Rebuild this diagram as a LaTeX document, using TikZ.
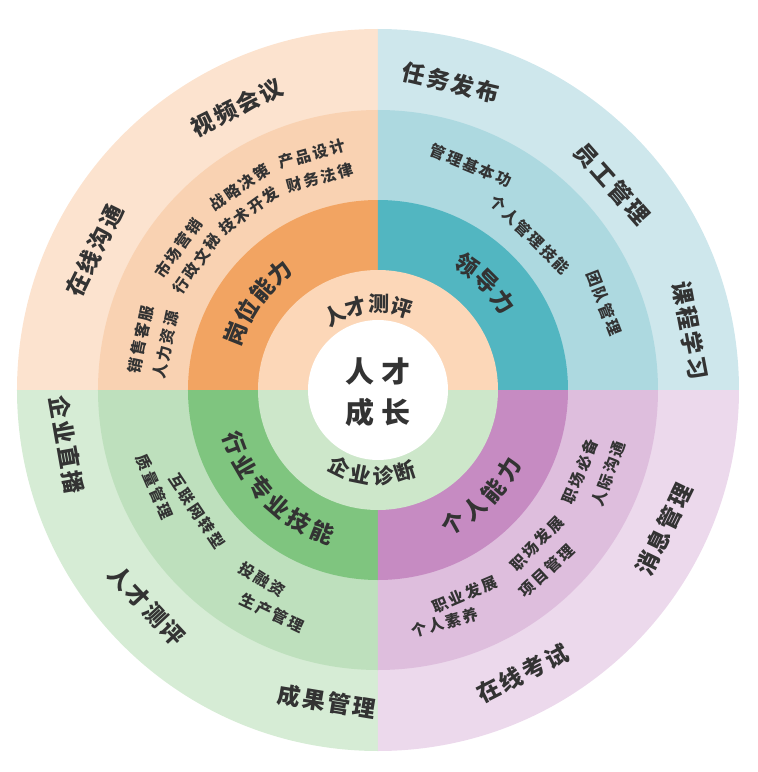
\documentclass[tikz,border=0pt]{standalone}
\usepackage{fontspec}
\newfontfamily\cjk{Noto Sans CJK SC}
\newfontfamily\cjkouter{Noto Sans CJK SC}[LetterSpace=10.5]
\newfontfamily\cjksmall{Noto Sans CJK SC}[LetterSpace=14]
\definecolor{txt}{HTML}{333333}
\definecolor{peachA}{HTML}{FCE3CF}
\definecolor{peachB}{HTML}{F9D2B2}
\definecolor{peachC}{HTML}{F2A462}
\definecolor{innerTop}{HTML}{FCD7B8}
\definecolor{tealA}{HTML}{CEE7EC}
\definecolor{tealB}{HTML}{ADD9E0}
\definecolor{tealC}{HTML}{52B6C1}
\definecolor{greenA}{HTML}{D6ECD5}
\definecolor{greenB}{HTML}{BEE0BD}
\definecolor{greenC}{HTML}{7FC57F}
\definecolor{innerBot}{HTML}{CDE7CA}
\definecolor{purpA}{HTML}{ECD9EC}
\definecolor{purpB}{HTML}{DEBEDD}
\definecolor{purpC}{HTML}{C68BC2}
\tikzset{
  lbl/.style={text=txt, inner sep=0pt},
  outerlbl/.style={lbl, font=\cjkouter\bfseries\fontsize{23}{23}\selectfont},
  midlbl/.style={lbl, font=\cjk\bfseries\fontsize{23}{23}\selectfont},
  innerlbl/.style={lbl, font=\cjk\bfseries\fontsize{21}{21}\selectfont},
  smalllbl/.style={lbl, font=\cjksmall\bfseries\fontsize{15.5}{15.5}\selectfont},
  centerlbl/.style={lbl, font=\cjk\bfseries\fontsize{29}{29}\selectfont},
}
% whole word on a tangent, top half (tops outward) / bottom half (tops inward)
\newcommand\topword[5]{\node[#2, rotate=#4-90] (#1) at (#4:#3pt) {#5};}
\newcommand\botword[5]{\node[#2, rotate=#4+90] (#1) at (#4:#3pt) {#5};}
% curved text, one character per node, top half: reads clockwise
\newcommand\toparc[7]{%
  \foreach \ch [count=\i] in {#7} {%
    \pgfmathsetmacro\ang{#4 - (\i-(#6+1)/2)*#5}%
    \node[#2, rotate=\ang-90] (#1-\i) at (\ang:#3pt) {\ch};
  }}
% curved text, bottom half: reads counter-clockwise
\newcommand\botarc[7]{%
  \foreach \ch [count=\i] in {#7} {%
    \pgfmathsetmacro\ang{#4 + (\i-(#6+1)/2)*#5}%
    \node[#2, rotate=\ang+90] (#1-\i) at (\ang:#3pt) {\ch};
  }}
\newcommand\sector[4]{\fill[#1] (0,0) -- (#2:#4pt) arc[start angle=#2, end angle=#3, radius=#4pt] -- cycle;}
\begin{document}
\begin{tikzpicture}
\useasboundingbox (-378pt,-382pt) rectangle (380pt,390pt);
% outer ring
\sector{peachA}{90}{180}{361}
\sector{tealA}{0}{90}{361}
\sector{greenA}{180}{270}{361}
\sector{purpA}{270}{360}{361}
% ring of small labels
\sector{peachB}{90}{180}{280}
\sector{tealB}{0}{90}{280}
\sector{greenB}{180}{270}{280}
\sector{purpB}{270}{360}{280}
% middle ring
\sector{peachC}{90}{180}{190}
\sector{tealC}{0}{90}{190}
\sector{greenC}{180}{270}{190}
\sector{purpC}{270}{360}{190}
% inner ring
\sector{innerTop}{0}{180}{120}
\sector{innerBot}{180}{360}{120}
% centre
\fill[white] (0,0) circle[radius=70pt];
\node[centerlbl] (c1) at (0pt,19pt) {人\hspace{7pt}才};
\node[centerlbl] (c2) at (0pt,-22pt) {成\hspace{7pt}长};
% inner ring labels
\toparc{in1}{innerlbl}{86}{97}{15.5}{4}{人,才,测,评}
\botarc{in2}{innerlbl}{86}{266}{15}{4}{企,业,诊,断}
% middle ring labels
\toparc{m1}{midlbl}{153}{144}{9.5}{4}{岗,位,能,力}
\toparc{m2}{midlbl}{153}{45}{9.7}{3}{领,导,力}
\botarc{m3}{midlbl}{153}{224.5}{9.6}{6}{行,业,专,业,技,能}
\botarc{m4}{midlbl}{153}{314}{9.8}{4}{个,人,能,力}
% small labels, top-left
\topword{s1}{smalllbl}{245}{105.6}{产品设计}
\topword{s2}{smalllbl}{220}{105.3}{财务法律}
\topword{s3}{smalllbl}{246}{124.3}{战略决策}
\topword{s4}{smalllbl}{221}{125.8}{技术开发}
\topword{s5}{smalllbl}{245}{144.6}{市场营销}
\topword{s6}{smalllbl}{221}{145.2}{行政文秘}
\topword{s7}{smalllbl}{243}{168}{销售客服}
\topword{s8}{smalllbl}{217}{168}{人力资源}
% small labels, top-right
\topword{s9}{smalllbl}{243}{67.5}{管理基本功}
\topword{s10}{smalllbl}{217}{45.6}{个人管理技能}
\topword{s11}{smalllbl}{242}{21}{团队管理}
% small labels, bottom-left
\botword{s12}{smalllbl}{244}{203.4}{质量管理}
\botword{s13}{smalllbl}{218}{213.8}{互联网转型}
\botword{s14}{smalllbl}{222}{238.6}{投融资}
\botword{s15}{smalllbl}{247}{244.6}{生产管理}
% small labels, bottom-right
\botword{s16}{smalllbl}{222}{293}{职业发展}
\botword{s17}{smalllbl}{242}{286}{个人素养}
\botword{s18}{smalllbl}{221}{316}{职场发展}
\botword{s19}{smalllbl}{247}{313}{项目管理}
\botword{s20}{smalllbl}{218}{338}{职场必备}
\botword{s21}{smalllbl}{245}{340}{人际沟通}
% outer labels
\topword{o1}{outerlbl}{316}{116.5}{视频会议}
\topword{o2}{outerlbl}{316}{153.8}{在线沟通}
\topword{o3}{outerlbl}{316}{76.7}{任务发布}
\topword{o4}{outerlbl}{312}{41.4}{员工管理}
\topword{o5}{outerlbl}{318}{10.8}{课程学习}
\botword{o6}{outerlbl}{316}{190}{企业直播}
\botword{o7}{outerlbl}{316}{223}{人才测评}
\botword{o8}{outerlbl}{316}{260.6}{成果管理}
\botword{o9}{outerlbl}{318}{297}{在线考试}
\botword{o10}{outerlbl}{318}{334}{消息管理}
\end{tikzpicture}
\end{document}
